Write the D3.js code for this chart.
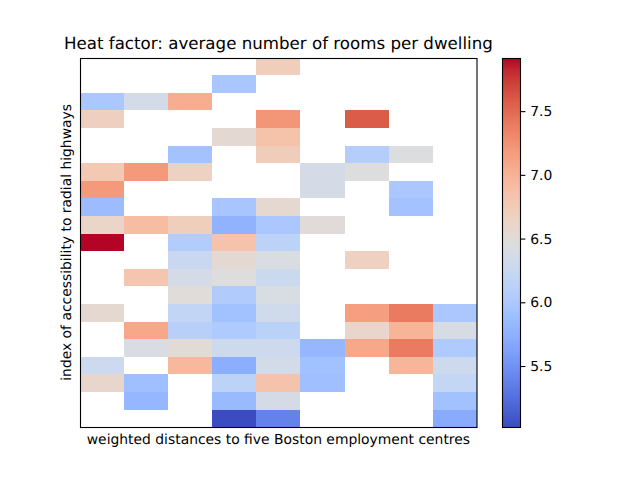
<!DOCTYPE html>
<html>
<head>
<meta charset="utf-8">
<script src="https://cdn.jsdelivr.net/npm/d3@7"></script>
<style>
html,body{margin:0;padding:0;background:#fff;}
svg{display:block;}
text{font-family:"DejaVu Sans",sans-serif;fill:#000;text-rendering:geometricPrecision;}
</style>
</head>
<body>
<div id="chart"></div>
<script>
const titleText = "Heat factor: average number of rooms per dwelling";
const xLabel = "weighted distances to five Boston employment centres";
const yLabel = "index of accessibility to radial highways";
const colorTicks = [5.5, 6.0, 6.5, 7.0, 7.5];
const colorDomain = [5.02, 7.92];
const colorStops = ["#3b4cc0","#445acc","#4d68d7","#5775e1","#6282ea","#6c8ef1","#779af7","#82a5fb","#8db0fe","#98b9ff","#a3c2ff","#aec9fd","#b8d0f9","#c2d5f4","#ccd9ee","#d5dbe6","#dddddd","#e5d8d1","#ecd3c5","#f1ccb9","#f5c4ad","#f7bba0","#f7b194","#f7a687","#f49a7b","#f18d6f","#ec7f63","#e57058","#de604d","#d55042","#cb3e38","#c0282f","#b40426"];
const _ = null;
const row00 = [_,_,_,_,6.72,_,_,_,_];
const row01 = [_,_,_,5.98,_,_,_,_,_];
const row02 = [5.99,6.36,7.05,_,_,_,_,_,_];
const row03 = [6.70,_,_,_,7.22,_,7.58,_,_];
const row04 = [_,_,_,6.55,6.85,_,_,_,_];
const row05 = [_,_,5.93,_,6.73,_,6.07,6.45,_];
const row06 = [6.78,7.20,6.67,_,_,6.37,6.47,_,_];
const row07 = [7.20,_,_,_,_,6.37,_,5.99,_];
const row08 = [5.87,_,_,5.97,6.56,_,_,5.93,_];
const row09 = [6.62,6.90,6.72,5.78,5.99,6.50,_,_,_];
const row10 = [7.92,_,6.05,6.84,6.15,_,_,_,_];
const row11 = [_,_,6.26,6.55,6.43,_,6.68,_,_];
const row12 = [_,6.82,6.38,6.47,6.28,_,_,_,_];
const row13 = [_,_,6.49,6.04,6.41,_,_,_,_];
const row14 = [6.56,_,6.20,5.92,6.32,_,7.16,7.40,5.99];
const row15 = [_,7.09,6.10,6.03,6.13,_,6.60,6.98,6.40];
const row16 = [_,6.42,6.53,6.30,6.30,5.82,7.09,7.40,6.03];
const row17 = [6.29,_,6.94,5.73,6.36,5.92,_,6.97,6.30];
const row18 = [6.60,5.90,_,6.15,6.84,5.90,_,_,6.21];
const row19 = [_,5.82,_,5.85,6.38,_,_,_,5.92];
const row20 = [_,_,_,5.02,5.39,_,_,_,5.70];
const grid = [row00,row01,row02,row03,row04,row05,row06,row07,row08,row09,row10,row11,row12,row13,row14,row15,row16,row17,row18,row19,row20];

const W = 640, H = 480;
const L = 80, R = 476.8, T = 57.6, B = 427.2;
const cbL = 502.5, cbR = 520.5;

const svg = d3.select("#chart").append("svg").attr("width", W).attr("height", H);

const x = d3.scaleBand().domain(d3.range(grid[0].length)).range([L, R]);
const y = d3.scaleBand().domain(d3.range(grid.length)).range([T, B]);
const stopPos = colorStops.map((c, i) => i / (colorStops.length - 1));
const color = d3.scaleLinear()
  .domain(stopPos.map(p => colorDomain[0] + p * (colorDomain[1] - colorDomain[0])))
  .range(colorStops)
  .interpolate(d3.interpolateRgb)
  .clamp(true);

const cells = grid.flatMap((r, i) => r.map((v, j) => ({i, j, v}))).filter(d => d.v !== null);
svg.append("g").attr("shape-rendering", "crispEdges").selectAll("rect").data(cells).join("rect")
  .attr("x", d => x(d.j)).attr("y", d => y(d.i))
  .attr("width", x.bandwidth()).attr("height", y.bandwidth())
  .attr("fill", d => color(d.v));

svg.append("rect").attr("x", 80.5).attr("y", 58.5).attr("width", 396.5).attr("height", 369)
  .attr("fill", "none").attr("stroke", "#000").attr("stroke-width", 1.1);

svg.append("text").attr("x", (L + R) / 2).attr("y", 49).attr("text-anchor", "middle")
  .attr("font-size", "16.67px").text(titleText);
svg.append("text").attr("x", (L + R) / 2).attr("y", 444).attr("text-anchor", "middle")
  .attr("font-size", "13.89px").text(xLabel);
svg.append("text").attr("transform", `translate(71,${(T + B) / 2}) rotate(-90)`)
  .attr("text-anchor", "middle").attr("font-size", "13.89px").text(yLabel);

// colorbar
const cbScale = d3.scaleLinear().domain(colorDomain).range([B, T]);
const defs = svg.append("defs");
const grad = defs.append("linearGradient").attr("id", "cb")
  .attr("x1", 0).attr("y1", 1).attr("x2", 0).attr("y2", 0);
grad.selectAll("stop").data(stopPos).join("stop")
  .attr("offset", d => d).attr("stop-color", (d, i) => colorStops[i]);
svg.append("rect").attr("x", cbL).attr("y", 58.5).attr("width", cbR - cbL).attr("height", 369)
  .attr("fill", "url(#cb)").attr("stroke", "#000").attr("stroke-width", 1.1);

const axis = d3.axisRight(cbScale).tickValues(colorTicks).tickFormat(d3.format(".1f")).tickSize(4.86).tickPadding(4.86);
const ag = svg.append("g").attr("transform", `translate(${cbR},0)`).call(axis);
ag.select(".domain").remove();
ag.selectAll(".tick line").attr("stroke", "#000").attr("stroke-width", 1.1);
ag.selectAll(".tick text").attr("font-size", "13.89px").attr("font-family", '"DejaVu Sans",sans-serif').attr("fill", "#000");
</script>
</body>
</html>
